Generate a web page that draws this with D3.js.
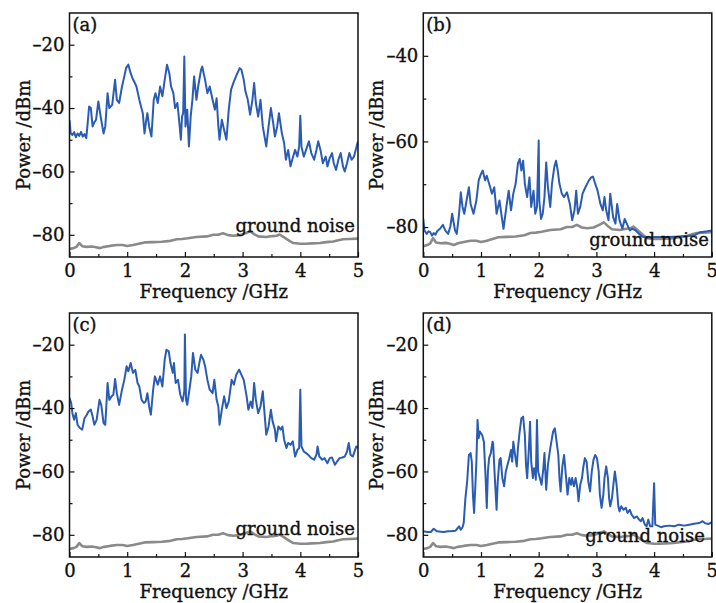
<!DOCTYPE html>
<html>
<head>
<meta charset="utf-8">
<script src="https://cdn.jsdelivr.net/npm/d3@7"></script>
<style>
  body { margin: 0; background: #fff; }
  svg { display: block; }
  text { font-family: "DejaVu Serif", serif; fill: #111; stroke: #111; stroke-width: 0.35px; }
</style>
</head>
<body>
<svg id="chart" width="716" height="603"></svg>
<script>
// ---------- data ----------
const xTicks = [0, 1, 2, 3, 4, 5];
const xMinorTicks = [0.5, 1.5, 2.5, 3.5, 4.5];
const yTicksWide = [-80, -60, -40, -20];
const yMinorWide = [-70, -50, -30];
const yTicksB = [-80, -60, -40];
const yMinorB = [-70, -50];
const panelLabels = ["(a)", "(b)", "(c)", "(d)"];
const noiseLabel = "ground noise";

// ground noise (same measurement in every panel)
const freqN = [0,0.07,0.12,0.17,0.22,0.3,0.39,0.46,0.53,0.6,0.7,0.82,0.92,1.0,1.1,1.2,1.3,1.45,1.6,1.75,1.86,1.95,2.05,2.2,2.38,2.49,2.58,2.66,2.75,2.84,2.95,3.05,3.13,3.2,3.27,3.41,3.52,3.59,3.64,3.7,3.76,3.82,3.88,4.0,4.1,4.2,4.34,4.45,4.57,4.66,4.74,4.85,5.0];
const powN = [-84.5,-84.2,-83.8,-82.6,-83.6,-83.8,-83.7,-83.9,-84.2,-83.8,-83.5,-83.2,-83.2,-83.5,-83.2,-82.8,-82.4,-82.3,-82.2,-81.9,-81.4,-81.3,-81.1,-80.7,-80.5,-80.0,-80.0,-79.5,-80.1,-80.3,-80.1,-79.5,-78.9,-79.8,-80.5,-80.7,-80.4,-80.3,-79.9,-80.6,-81.3,-82.0,-82.6,-82.8,-82.8,-82.7,-82.6,-82.3,-82.1,-81.7,-81.4,-81.3,-81.2];

// panel (a)
const freqA = [0.00,0.02,0.05,0.08,0.11,0.14,0.17,0.2,0.23,0.26,0.29,0.31,0.34,0.37,0.40,0.43,0.46,0.50,0.54,0.59,0.62,0.66,0.69,0.74,0.79,0.82,0.86,0.91,0.95,0.98,1.02,1.06,1.09,1.12,1.16,1.21,1.27,1.30,1.33,1.35,1.38,1.42,1.46,1.49,1.53,1.57,1.61,1.65,1.69,1.73,1.76,1.80,1.83,1.87,1.91,1.93,1.95,1.97,1.99,2.01,2.04,2.07,2.10,2.13,2.16,2.20,2.23,2.28,2.30,2.35,2.39,2.43,2.48,2.52,2.55,2.58,2.60,2.64,2.68,2.72,2.76,2.80,2.85,2.91,2.95,2.98,3.02,3.05,3.09,3.13,3.17,3.20,3.23,3.27,3.31,3.35,3.39,3.41,3.45,3.49,3.53,3.56,3.60,3.63,3.68,3.72,3.75,3.79,3.83,3.86,3.91,3.95,3.98,4.00,4.02,4.06,4.10,4.15,4.19,4.24,4.28,4.31,4.35,4.39,4.44,4.47,4.51,4.55,4.58,4.62,4.66,4.70,4.74,4.77,4.81,4.85,4.89,4.93,4.96,5.00];
const powA = [-43.8,-47.9,-48.5,-47.6,-49.2,-48.0,-48.8,-47.5,-49.0,-48.2,-49.5,-45.8,-39.5,-40.0,-45.8,-44.5,-43.7,-37.9,-42.7,-48.0,-45.8,-35.3,-40.0,-39.0,-31.1,-37.4,-38.4,-33.2,-30.0,-27.4,-26.3,-29.0,-30.5,-31.6,-33.2,-37.4,-41.6,-48.0,-43.7,-41.6,-45.8,-49.0,-37.4,-35.3,-38.4,-33.2,-36.3,-31.1,-26.3,-29.0,-33.2,-35.3,-40.0,-38.4,-45.8,-50.0,-42.7,-41.6,-23.7,-45.8,-40.5,-52.1,-42.7,-37.4,-30.0,-37.4,-33.2,-27.9,-26.9,-31.1,-35.3,-33.2,-37.4,-40.5,-36.9,-45.8,-50.0,-43.7,-46.9,-50.0,-40.5,-34.2,-31.6,-29.0,-27.4,-27.9,-31.1,-34.8,-37.4,-42.1,-37.4,-32.1,-38.4,-42.7,-37.4,-45.8,-50.0,-52.1,-45.8,-40.0,-44.7,-49.0,-45.8,-41.6,-47.9,-51.1,-56.3,-53.2,-58.4,-56.3,-53.2,-55.3,-52.1,-42.4,-52.1,-55.3,-53.2,-50.5,-54.2,-56.3,-53.2,-50.5,-53.2,-57.4,-55.3,-58.4,-55.8,-54.2,-57.4,-59.5,-56.3,-54.2,-58.4,-60.0,-57.4,-54.2,-56.3,-55.3,-53.2,-50.5];

// panel (b)
const freqB = [0.00,0.02,0.06,0.09,0.12,0.15,0.18,0.21,0.24,0.27,0.29,0.34,0.38,0.43,0.47,0.50,0.55,0.58,0.62,0.65,0.68,0.71,0.75,0.79,0.82,0.87,0.92,0.96,1.00,1.03,1.07,1.10,1.15,1.19,1.23,1.27,1.32,1.36,1.39,1.44,1.48,1.52,1.56,1.60,1.64,1.67,1.70,1.73,1.76,1.80,1.84,1.87,1.91,1.94,1.97,2.00,2.01,2.04,2.07,2.10,2.13,2.16,2.20,2.23,2.27,2.30,2.33,2.36,2.40,2.44,2.49,2.54,2.58,2.62,2.65,2.68,2.72,2.76,2.81,2.87,2.91,2.94,2.98,3.02,3.07,3.11,3.14,3.17,3.21,3.24,3.29,3.33,3.36,3.40,3.45,3.49,3.54,3.58,3.62,3.68,3.74,3.79,3.88,4.00,4.23,4.46,4.69,4.80,4.92,5.00];
const powB = [-78.1,-80.8,-81.6,-81.0,-81.2,-82.0,-81.4,-81.8,-81.0,-80.6,-80.4,-79.5,-80.8,-81.6,-79.8,-76.9,-80.8,-81.6,-76.9,-71.9,-75.3,-76.9,-73.8,-70.7,-74.6,-76.9,-73.8,-69.1,-67.6,-66.8,-69.1,-68.0,-70.3,-72.2,-70.7,-76.9,-73.8,-77.7,-80.4,-75.3,-71.5,-76.1,-72.2,-69.9,-65.2,-64.1,-66.8,-64.5,-69.9,-73.0,-68.4,-75.3,-71.5,-76.9,-75.3,-59.8,-73.8,-78.1,-76.9,-73.0,-64.9,-70.7,-75.3,-69.9,-66.0,-64.5,-66.8,-69.9,-72.2,-73.0,-71.9,-74.6,-78.4,-76.1,-71.5,-76.9,-75.3,-72.2,-70.7,-69.1,-68.4,-68.2,-69.9,-71.5,-74.6,-76.1,-73.0,-76.1,-78.4,-72.2,-77.7,-79.2,-74.6,-78.4,-80.4,-78.1,-79.6,-80.8,-80.4,-80.8,-81.6,-82.2,-82.5,-82.3,-82.3,-82.2,-82.0,-81.2,-81.0,-80.8];

// panel (c)
const freqC = [0.00,0.03,0.05,0.08,0.11,0.14,0.18,0.22,0.26,0.30,0.33,0.37,0.40,0.43,0.47,0.52,0.55,0.59,0.62,0.66,0.69,0.73,0.76,0.79,0.82,0.86,0.91,0.95,0.99,1.02,1.06,1.10,1.14,1.18,1.21,1.25,1.29,1.32,1.35,1.38,1.41,1.45,1.48,1.53,1.57,1.61,1.65,1.68,1.72,1.75,1.79,1.81,1.84,1.88,1.92,1.96,1.99,2.00,2.02,2.04,2.07,2.11,2.14,2.18,2.22,2.25,2.28,2.32,2.35,2.39,2.43,2.48,2.51,2.55,2.58,2.60,2.64,2.68,2.72,2.76,2.81,2.85,2.89,2.94,2.98,3.02,3.07,3.10,3.14,3.17,3.20,3.23,3.27,3.31,3.35,3.38,3.41,3.45,3.49,3.52,3.56,3.58,3.62,3.66,3.69,3.72,3.76,3.79,3.83,3.87,3.91,3.95,3.98,4.00,4.02,4.06,4.10,4.15,4.19,4.24,4.28,4.30,4.33,4.38,4.42,4.47,4.51,4.55,4.60,4.64,4.68,4.73,4.77,4.81,4.84,4.87,4.91,4.95,4.97,5.00];
const powC = [-36.8,-38.5,-41.6,-43.7,-41.6,-45.3,-46.3,-46.8,-43.2,-42.1,-41.0,-40.5,-42.6,-45.3,-43.7,-37.4,-39.0,-44.7,-45.3,-32.1,-37.4,-36.3,-35.8,-30.8,-35.3,-39.0,-34.2,-31.1,-26.8,-28.4,-25.8,-28.9,-27.9,-32.1,-33.2,-37.4,-38.4,-37.9,-35.3,-39.5,-42.1,-34.2,-30.0,-32.6,-30.0,-33.2,-24.7,-21.6,-22.1,-25.8,-28.9,-25.8,-32.1,-31.1,-35.8,-37.9,-34.7,-16.8,-37.4,-39.0,-35.3,-30.0,-22.6,-27.9,-28.9,-25.8,-23.2,-24.7,-26.8,-31.1,-34.2,-35.3,-31.1,-37.4,-39.5,-45.3,-40.5,-36.3,-40.0,-37.9,-31.1,-32.6,-29.5,-27.9,-29.5,-31.1,-36.3,-40.5,-37.9,-40.0,-32.1,-37.4,-41.6,-39.5,-34.7,-41.6,-48.4,-45.8,-40.5,-44.2,-46.8,-50.5,-45.8,-46.8,-45.8,-50.0,-52.6,-51.0,-51.6,-50.5,-55.3,-53.2,-52.6,-34.2,-52.1,-53.7,-54.2,-55.0,-55.8,-56.3,-54.7,-52.1,-55.3,-56.3,-55.8,-57.4,-55.8,-55.6,-57.9,-56.8,-55.8,-55.6,-55.3,-53.7,-51.0,-54.7,-55.3,-53.2,-52.1,-52.6];

// panel (d)
const freqD = [0.00,0.07,0.13,0.18,0.24,0.30,0.36,0.42,0.47,0.56,0.62,0.65,0.68,0.70,0.73,0.76,0.79,0.82,0.84,0.86,0.88,0.90,0.92,0.94,0.96,0.98,1.02,1.05,1.08,1.10,1.12,1.14,1.17,1.20,1.21,1.24,1.27,1.29,1.32,1.34,1.37,1.40,1.43,1.46,1.49,1.52,1.54,1.56,1.59,1.62,1.64,1.67,1.70,1.73,1.76,1.78,1.80,1.83,1.85,1.87,1.90,1.92,1.94,1.95,1.97,1.99,2.02,2.05,2.08,2.10,2.13,2.16,2.20,2.23,2.25,2.28,2.31,2.34,2.36,2.38,2.41,2.44,2.47,2.50,2.53,2.56,2.58,2.61,2.64,2.67,2.69,2.72,2.75,2.77,2.80,2.83,2.86,2.89,2.92,2.95,2.98,3.01,3.04,3.06,3.09,3.12,3.14,3.17,3.20,3.22,3.24,3.27,3.30,3.32,3.35,3.38,3.40,3.43,3.47,3.51,3.54,3.58,3.61,3.65,3.70,3.74,3.77,3.80,3.84,3.87,3.90,3.93,3.97,4.00,4.02,4.06,4.12,4.17,4.26,4.35,4.43,4.52,4.61,4.69,4.78,4.84,4.88,4.94,5.00];
const powD = [-78.9,-79.1,-79.1,-78.1,-78.9,-79.0,-79.1,-78.9,-78.9,-78.7,-77.3,-78.4,-77.6,-76.3,-68.4,-63.2,-54.8,-54.2,-56.9,-67.3,-73.1,-65.3,-56.9,-43.8,-49.5,-47.4,-48.5,-50.6,-62.1,-71.5,-60.0,-55.8,-54.2,-50.6,-51.1,-62.1,-72.1,-63.2,-56.3,-55.8,-62.1,-64.7,-60.0,-57.9,-55.8,-53.2,-56.9,-50.6,-54.8,-58.4,-52.7,-47.4,-43.2,-42.7,-48.5,-57.9,-62.1,-52.7,-44.3,-56.9,-62.1,-59.0,-60.0,-62.6,-43.8,-60.0,-62.1,-64.2,-59.0,-54.2,-65.8,-57.9,-52.7,-49.5,-47.4,-46.4,-50.6,-54.8,-62.1,-66.3,-58.4,-54.8,-61.0,-67.3,-62.1,-64.2,-62.1,-64.7,-62.1,-65.3,-69.4,-64.2,-62.1,-59.0,-55.8,-56.9,-63.2,-66.3,-60.0,-56.3,-54.8,-55.8,-60.0,-67.3,-71.5,-67.3,-62.1,-58.4,-62.1,-68.4,-71.0,-68.4,-63.2,-60.0,-64.2,-71.0,-72.6,-71.0,-72.1,-71.5,-73.1,-72.1,-73.6,-74.7,-74.2,-75.2,-75.7,-74.7,-76.8,-77.3,-75.2,-77.3,-77.3,-63.7,-76.8,-77.1,-77.6,-77.3,-77.1,-77.3,-76.8,-77.1,-76.8,-76.5,-76.3,-75.7,-76.3,-76.6,-76.0];

// ---------- layout ----------
const panels = [
  { label: panelLabels[0], f: freqA, p: powA, left: 69.5, top: 13, ydom: [-87, -10], yt: yTicksWide, ym: yMinorWide, noiseX: -3, noiseY: 219 },
  { label: panelLabels[1], f: freqB, p: powB, left: 423.3, top: 13, ydom: [-87, -30], yt: yTicksB, ym: yMinorB, noiseX: -3, noiseY: 233 },
  { label: panelLabels[2], f: freqC, p: powC, left: 69.5, top: 313, ydom: [-87, -10], yt: yTicksWide, ym: yMinorWide, noiseX: -3, noiseY: 222 },
  { label: panelLabels[3], f: freqD, p: powD, left: 423.3, top: 313, ydom: [-87, -10], yt: yTicksWide, ym: yMinorWide, noiseX: -7, noiseY: 229 }
];
const W = 288.5, H = 244;
const FS = 18;
const dash = d => (d < 0 ? "\u2013" + Math.abs(d) : String(d));

const svg = d3.select("#chart");

panels.forEach((pn, i) => {
  const g = svg.append("g").attr("transform", `translate(${pn.left},${pn.top})`);
  const x = d3.scaleLinear().domain([0, 5]).range([0, W]);
  const y = d3.scaleLinear().domain(pn.ydom).range([H, 0]);

  const clipId = "clip" + i;
  g.append("clipPath").attr("id", clipId)
    .append("rect").attr("x", 0).attr("y", 0).attr("width", W).attr("height", H);

  const plot = g.append("g").attr("clip-path", `url(#${clipId})`);

  // ground noise
  const noise = freqN.map((f, k) => [f, powN[k]]);
  plot.append("path")
    .datum(noise)
    .attr("fill", "none")
    .attr("stroke", "#8a8a8a")
    .attr("stroke-width", 2.6)
    .attr("stroke-linejoin", "round")
    .attr("d", d3.line().x(d => x(d[0])).y(d => y(d[1])));

  // signal
  const sig = pn.f.map((f, k) => [f, pn.p[k]]);
  plot.append("path")
    .datum(sig)
    .attr("fill", "none")
    .attr("stroke", "#2a5cb3")
    .attr("stroke-width", 2.0)
    .attr("stroke-linejoin", "round")
    .attr("d", d3.line().x(d => x(d[0])).y(d => y(d[1])));

  // axes
  const xAx = g.append("g").attr("transform", `translate(0,${H})`)
    .call(d3.axisBottom(x).tickValues(xTicks).tickSize(-5).tickPadding(7).tickFormat(d3.format("d")));
  const xMin = g.append("g").attr("transform", `translate(0,${H})`)
    .call(d3.axisBottom(x).tickValues(xMinorTicks).tickSize(-3).tickFormat(""));
  const yAx = g.append("g")
    .call(d3.axisLeft(y).tickValues(pn.yt).tickSize(-5).tickPadding(5).tickFormat(dash));
  const yMin = g.append("g")
    .call(d3.axisLeft(y).tickValues(pn.ym).tickSize(-3).tickFormat(""));

  [xAx, xMin, yAx, yMin].forEach(a => {
    a.select(".domain").remove();
    a.selectAll("line").attr("stroke", "#111").attr("stroke-width", 1.2);
    a.selectAll("text").attr("font-size", FS).attr("font-family", "DejaVu Serif")
      .attr("fill", "#111").attr("stroke", "#111").attr("stroke-width", 0.35);
  });

  // frame
  g.append("rect")
    .attr("x", 0).attr("y", 0).attr("width", W).attr("height", H)
    .attr("fill", "none").attr("stroke", "#111").attr("stroke-width", 1.5);

  // axis titles
  g.append("text")
    .attr("x", W / 2).attr("y", H + 41)
    .attr("text-anchor", "middle").attr("font-size", FS)
    .text("Frequency /GHz");
  g.append("text")
    .attr("transform", `translate(-40,${H / 2}) rotate(-90)`)
    .attr("text-anchor", "middle").attr("font-size", FS)
    .text("Power /dBm");

  // panel label
  g.append("text").attr("x", 3).attr("y", 18).attr("font-size", FS).text(pn.label);

  // ground noise label
  g.append("text")
    .attr("x", W + pn.noiseX).attr("y", pn.noiseY)
    .attr("text-anchor", "end").attr("font-size", FS)
    .text(noiseLabel);
});
</script>
</body>
</html>
